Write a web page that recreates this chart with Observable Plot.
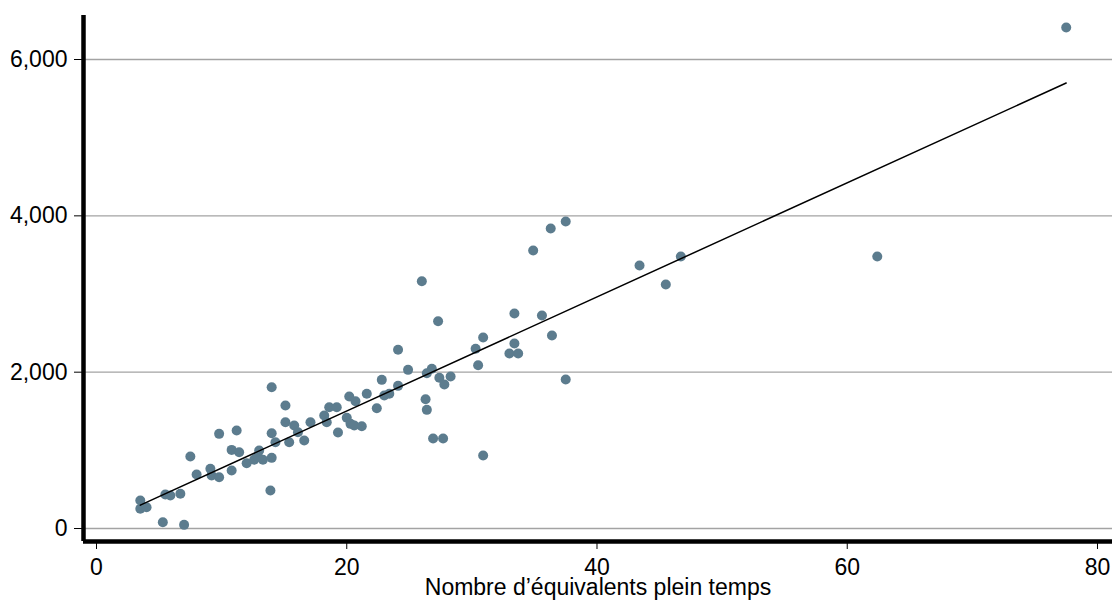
<!DOCTYPE html>
<html>
<head>
<meta charset="utf-8">
<script src="https://cdn.jsdelivr.net/npm/d3@7"></script>
<script src="https://cdn.jsdelivr.net/npm/@observablehq/plot@0.6"></script>
<style>
  html, body { margin: 0; padding: 0; background: #fff; }
</style>
</head>
<body>
<div id="chart"></div>
<script>
// Number of full-time equivalents (x) and value (y)
const fte = [
  3.5, 3.5, 4.0, 5.3, 7.0, 5.5, 5.9, 6.7, 7.5, 8.0,
  9.1, 9.2, 9.8, 9.8, 11.2, 10.8, 11.4, 10.8, 12.0, 12.6,
  13.0, 12.9, 13.3, 14.0, 13.9, 14.0, 14.3, 15.4, 15.1, 15.8,
  16.6, 17.1, 16.1, 14.0, 15.1, 18.2, 18.4, 18.6, 19.2, 19.3,
  20.0, 20.3, 20.6, 21.2, 20.2, 20.7, 21.6, 22.4, 22.8, 23.0,
  23.4, 24.1, 24.1, 24.9, 26.0, 26.4, 26.8, 27.4, 27.8, 28.3,
  26.3, 26.4, 26.9, 27.7, 27.3, 30.9, 30.3, 30.5, 30.9, 33.0,
  33.7, 33.4, 33.4, 35.6, 36.4, 37.5, 34.9, 36.3, 37.5, 43.4,
  45.5, 46.7, 62.4, 77.5
];
const value = [
  358, 252, 272, 81, 47, 435, 422, 444, 921, 691,
  764, 678, 656, 1211, 1254, 1006, 976, 742, 835, 879,
  998, 921, 879, 904, 486, 1219, 1104, 1104, 1360, 1318,
  1126, 1360, 1232, 1808, 1574, 1446, 1360, 1552, 1552, 1228,
  1416, 1339, 1318, 1309, 1689, 1628, 1723, 1539, 1902, 1701,
  1723, 1825, 2286, 2030, 3163, 1987, 2043, 1928, 1842, 1944,
  1654, 1518, 1151, 1151, 2652, 2443, 2299, 2089, 934, 2239,
  2239, 2367, 2750, 2725, 2469, 1906, 3556, 3838, 3927, 3364,
  3121, 3480, 3480, 6409
];
const xTicks = [0, 20, 40, 60, 80];
const yTicks = [0, 2000, 4000, 6000];
const xLabel = "Nombre d’équivalents plein temps";

const data = fte.map((x, i) => ({x, y: value[i]}));
const xDomain = [-1.04, 81.2];
const yDomain = [-166, 6563];
const fmt = d3.format(",");

const chart = Plot.plot({
  width: 1112,
  height: 601,
  marginLeft: 83,
  marginRight: 0,
  marginTop: 15,
  marginBottom: 60,
  style: {fontFamily: "'Liberation Sans', Arial, sans-serif", fontSize: "23px", background: "#fff", color: "#000"},
  x: {domain: xDomain},
  y: {domain: yDomain},
  marks: [
    Plot.gridY(yTicks, {stroke: "#a3a3a3", strokeOpacity: 1, strokeWidth: 1.3}),
    Plot.dot(data, {x: "x", y: "y", r: 5, fill: "#5c7c8e", stroke: "none"}),
    Plot.linearRegressionY(data, {x: "x", y: "y", ci: 0, stroke: "#000", strokeWidth: 1.5}),
    Plot.ruleX([xDomain[0]], {stroke: "#000", strokeWidth: 4.5}),
    Plot.ruleY([yDomain[0]], {stroke: "#000", strokeWidth: 4.5}),
    Plot.axisX({ticks: xTicks, tickSize: 8, tickPadding: 9, fontSize: 23, label: xLabel, labelAnchor: "center", labelArrow: "none", labelOffset: 53}),
    Plot.axisY({ticks: yTicks, tickFormat: fmt, tickSize: 9, tickPadding: 7, fontSize: 23, label: null})
  ]
});
document.getElementById("chart").appendChild(chart);
</script>
</body>
</html>
